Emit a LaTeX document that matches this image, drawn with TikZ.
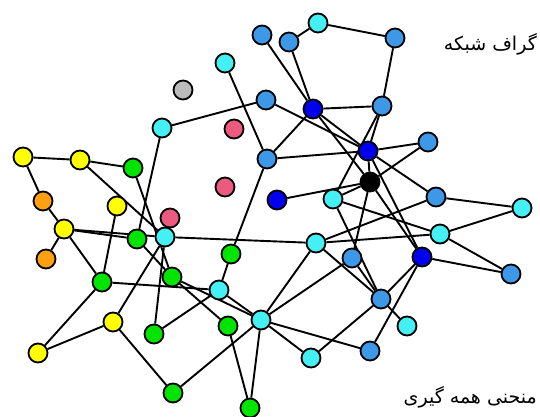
\documentclass[tikz,border=0pt]{standalone}
\usepackage{fontspec}
\newfontfamily\arabicfont[Script=Arabic]{DejaVu Sans}
\TeXXeTstate=1
\usetikzlibrary{backgrounds}
\definecolor{cYel}{HTML}{FFFF00}
\definecolor{cGrn}{HTML}{00E400}
\definecolor{cCyn}{HTML}{44F0F4}
\definecolor{cBlu}{HTML}{3E98E8}
\definecolor{cDbl}{HTML}{0000EE}
\definecolor{cOrg}{HTML}{FFA010}
\definecolor{cPnk}{HTML}{EC5A80}
\definecolor{cGry}{HTML}{BBBBBB}
\tikzset{
  nd/.style={circle,draw=black,line width=1.8pt,minimum size=19pt,inner sep=0pt},
  ny/.style={nd,fill=cYel}, ng/.style={nd,fill=cGrn}, nc/.style={nd,fill=cCyn},
  nb/.style={nd,fill=cBlu}, nk/.style={nd,fill=cDbl}, no/.style={nd,fill=cOrg},
  np/.style={nd,fill=cPnk}, nr/.style={nd,fill=cGry}, nx/.style={nd,fill=black},
  ed/.style={line width=1.9pt,black},
  lbl/.style={anchor=east,inner sep=0pt,font=\fontsize{19}{22}\selectfont\arabicfont}
}
\begin{document}
\begin{tikzpicture}[x=1pt,y=-1pt]
\useasboundingbox (0,0) rectangle (540,416);
\node[nc] (T1) at (318,23) {};
\node[nb] (B1) at (262,35) {};
\node[nb] (B2) at (289,42) {};
\node[nb] (B3) at (395,38) {};
\node[nc] (C2) at (225,63) {};
\node[nr] (GR) at (183,90) {};
\node[nb] (B4) at (266,100) {};
\node[nk] (D1) at (313,109) {};
\node[nb] (B5) at (382,106) {};
\node[np] (PK1) at (234,129) {};
\node[nc] (C3) at (162,128) {};
\node[nb] (B6) at (267,159) {};
\node[nk] (D2) at (368,151) {};
\node[nb] (B7) at (428,142) {};
\node[nx] (BK) at (370,182) {};
\node[ny] (Y1) at (23,157) {};
\node[ny] (Y2) at (80,160) {};
\node[ng] (G1) at (133,168) {};
\node[no] (O1) at (43,201) {};
\node[ny] (Y3) at (117,206) {};
\node[np] (PK2) at (225,187) {};
\node[nk] (D3) at (277,200) {};
\node[nc] (C4) at (333,199) {};
\node[nb] (B8) at (436,197) {};
\node[nc] (C5) at (522,208) {};
\node[np] (PK3) at (170,218) {};
\node[ny] (Y4) at (64,229) {};
\node[ng] (G2) at (137,239) {};
\node[nc] (C6) at (165,237) {};
\node[no] (O2) at (46,259) {};
\node[ng] (G3) at (231,254) {};
\node[nc] (C7) at (316,243) {};
\node[nc] (C8) at (440,234) {};
\node[nb] (B9) at (352,258) {};
\node[nk] (D4) at (422,257) {};
\node[nb] (B10) at (511,274) {};
\node[ng] (G4) at (102,282) {};
\node[ng] (G5) at (172,277) {};
\node[nc] (C9) at (219,290) {};
\node[nb] (B11) at (381,299) {};
\node[ny] (Y5) at (113,322) {};
\node[ng] (G6) at (154,334) {};
\node[ng] (G7) at (228,326) {};
\node[nc] (C10) at (261,320) {};
\node[nc] (C11) at (407,326) {};
\node[ny] (Y6) at (38,353) {};
\node[nb] (B12) at (370,351) {};
\node[nc] (C12) at (311,358) {};
\node[ng] (G8) at (173,393) {};
\node[ng] (G9) at (250,408) {};
\begin{scope}[on background layer]
\foreach \a/\b in {T1/B2,T1/B3,B3/B5,B1/D1,B2/D1,D1/B5,B4/C3,B4/D2,C2/B6,D1/B6,
  B6/D2,D1/D2,D1/BK,B5/D2,B5/C4,D2/B7,D2/BK,BK/B7,D2/B8,BK/D3,BK/C4,B8/C5,B8/C7,
  C4/C8,C7/C8,C8/C5,C8/B10,D4/B10,D2/D4,BK/D4,BK/B9,C4/B11,B9/B11,C7/B11,D4/B11,
  D4/B12,B11/C11,B11/C12,C10/B12,C10/B9,C10/C7,C10/C12,C6/C7,C3/G2,Y1/Y2,Y2/G1,
  Y1/O1,O1/Y4,Y4/O2,Y4/G2,Y4/C6,Y4/G4,Y3/G4,Y2/C6,G1/G5,G2/G5,G5/C10,G5/G7,G4/C9,
  G4/Y6,Y6/Y5,Y5/G8,Y5/C6,C6/G6,C9/G6,G3/C9,G3/B6,C9/C10,G8/C10,G7/G9,C10/G9}
  \draw[ed] (\a) -- (\b);
\end{scope}
\node[lbl] (L1) at (537,44) {\beginR گراف شبکه\endR};
\node[lbl] (L2) at (537,397) {\beginR منحنی همه گیری\endR};
\end{tikzpicture}
\end{document}
